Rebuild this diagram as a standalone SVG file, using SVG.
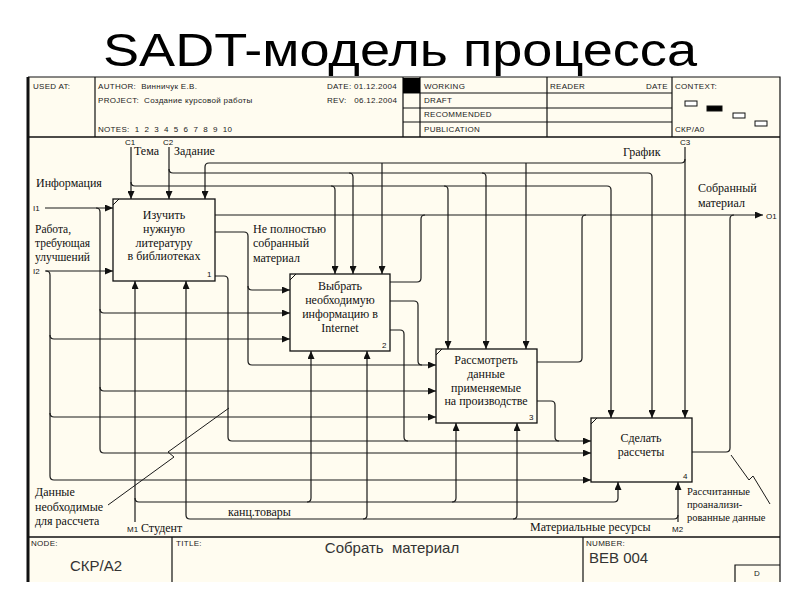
<svg xmlns="http://www.w3.org/2000/svg" width="800" height="600" viewBox="0 0 800 600">
<defs>
<marker id="ah" markerWidth="8" markerHeight="7" refX="8" refY="3.5" orient="auto" markerUnits="userSpaceOnUse"><path d="M0,0 L8,3.5 L0,7 z" fill="#111"/></marker>
<style>
.hd{font-family:"Liberation Sans",Arial,sans-serif;font-size:8px;fill:#222;letter-spacing:0.3px;white-space:pre}
.ft{font-family:"Liberation Sans",Arial,sans-serif;font-size:15px;fill:#333;white-space:pre}
.sr{font-family:"Liberation Serif","Times New Roman",serif;font-size:12px;fill:#111}
.sl{font-family:"Liberation Serif","Times New Roman",serif;font-size:11.5px;fill:#111}
.sm{font-family:"Liberation Serif","Times New Roman",serif;font-size:10.5px;fill:#111}
.bl{font-family:"Liberation Sans",Arial,sans-serif;font-size:8px;fill:#111}
.ln{fill:none;stroke:#1a1a1a;stroke-width:1.2}
.a{marker-end:url(#ah)}
.box{fill:#fffcf0;stroke:#111;stroke-width:1.3}
.fr{fill:none;stroke:#111;stroke-width:1.2}
</style>
</defs>
<rect width="800" height="600" fill="#fff"/>
<text x="400" y="66" text-anchor="middle" font-family="Liberation Sans, Arial, sans-serif" font-size="46" fill="#000" textLength="594" lengthAdjust="spacingAndGlyphs">SADT-модель процесса</text>

<rect x="28" y="77" width="752" height="505" fill="#fffcf0"/>
<g id="frame" class="fr">
<path d="M28 77 H780 V582"/>
<path d="M28 77 V582" stroke-width="3"/>
<path d="M28 137 H780" stroke-width="1.5"/>
<path d="M28 537 H780" stroke-width="1.5"/>
<path d="M95 77 V137 M403 77 V137 M420 77 V137 M547 77 V137 M672 77 V137"/>
<path d="M403 93 H672 M403 108 H672 M403 122 H672"/>
<path d="M172 537 V582 M583 537 V582"/>
<path d="M735 582 V565 H780"/>
</g>
<rect x="403" y="78" width="17" height="15" fill="#000"/>
<g id="context" stroke="#111" stroke-width="1">
<rect x="685" y="101" width="12" height="5" fill="#fff"/>
<rect x="707" y="106" width="15" height="5" fill="#000"/>
<rect x="733" y="113" width="12" height="5" fill="#fff"/>
<rect x="755" y="121" width="12" height="5" fill="#fff"/>
</g>
<g id="header">
<text class="hd" x="33" y="89">USED AT:</text>
<text class="hd" x="98" y="89">AUTHOR:  Винничук Е.В.</text>
<text class="hd" x="98" y="103">PROJECT:  Создание курсовой работы</text>
<text class="hd" x="98" y="132">NOTES:  1  2  3  4  5  6  7  8  9  10</text>
<text class="hd" x="327" y="89">DATE: 01.12.2004</text>
<text class="hd" x="327" y="103">REV:   06.12.2004</text>
<text class="hd" x="424" y="89">WORKING</text>
<text class="hd" x="424" y="103">DRAFT</text>
<text class="hd" x="424" y="117">RECOMMENDED</text>
<text class="hd" x="424" y="132">PUBLICATION</text>
<text class="hd" x="550" y="89">READER</text>
<text class="hd" x="646" y="89">DATE</text>
<text class="hd" x="675" y="89">CONTEXT:</text>
<text class="hd" x="675" y="132">СКР/А0</text>
</g>
<g id="footer">
<text class="hd" x="31" y="546" font-size="7">NODE:</text>
<text class="hd" x="176" y="546" font-size="7">TITLE:</text>
<text class="hd" x="586" y="546" font-size="7">NUMBER:</text>
<text class="ft" x="70" y="571">СКР/А2</text>
<text class="ft" x="392" y="553" text-anchor="middle">Собрать  материал</text>
<text class="ft" x="589" y="563">BEB 004</text>
<text class="hd" x="754" y="576">D</text>
</g>

<g id="connectors" class="ln">
<path class="a" d="M131 147 V199"/>
<path class="a" d="M131 182 Q131 186 135 186 H607 Q611 186 611 190 V418"/>
<path class="a" d="M331 186 Q335 186 335 190 V274"/>
<path class="a" d="M444 186 Q448 186 448 190 V349"/>
<path class="a" d="M169 147 V199"/>
<path class="a" d="M169 169 Q169 173 173 173 H648 Q652 173 652 177 V418"/>
<path class="a" d="M349 173 Q353 173 353 177 V274"/>
<path class="a" d="M482 173 Q486 173 486 177 V349"/>
<path class="a" d="M685 147 V418"/>
<path class="a" d="M685 159 Q685 163 681 163 H209 Q205 163 205 167 V199"/>
<path class="a" d="M382 163 V274"/>
<path class="a" d="M526 163 V349"/>
<path class="a" d="M45 208 H113"/>
<path class="a" d="M96 208 Q100 208 100 212 V449 Q100 453 104 453 H591"/>
<path class="a" d="M100 309 Q100 313 104 313 H290"/>
<path class="a" d="M100 387 Q100 391 104 391 H436"/>
<path class="a" d="M45 271 H113"/>
<path class="a" d="M46 271 Q50 271 50 275 V476 Q50 480 54 480 H591"/>
<path class="a" d="M50 335 Q50 339 54 339 H290"/>
<path class="a" d="M50 413 Q50 417 54 417 H436"/>
<path class="a" d="M215 215 H763"/>
<path class="a" d="M215 232 H244 Q248 232 248 236 V361 Q248 365 252 365 H436"/>
<path class="a" d="M248 286 Q248 290 252 290 H290"/>
<path class="a" d="M215 276 H224 Q228 276 228 280 V437 Q228 441 232 441 H591"/>
<path d="M390 282 H417 Q421 282 421 278 V219 Q421 215 425 215"/>
<path d="M390 301 H414 Q418 301 418 305 V361 Q418 365 422 365"/>
<path d="M390 330 H400 Q404 330 404 334 V437 Q404 441 408 441"/>
<path d="M537 362 H578 Q582 362 582 358 V219 Q582 215 586 215"/>
<path d="M537 401 H551 Q555 401 555 405 V437 Q555 441 559 441"/>
<path d="M692 452 H726 Q730 452 730 448 V219 Q730 215 734 215"/>
<path class="a" d="M135 522 V281"/>
<path class="a" d="M135 498 Q135 502 139 502 H614 Q618 502 618 498 V482"/>
<path class="a" d="M307 502 Q311 502 311 498 V351"/>
<path class="a" d="M452 502 Q456 502 456 498 V423"/>
<path class="a" d="M678 522 V482"/>
<path class="a" d="M678 515 Q678 519 674 519 H190 Q186 519 186 515 V281"/>
<path class="a" d="M363 519 Q367 519 367 515 V351"/>
<path class="a" d="M513 519 Q517 519 517 515 V423"/>
<path d="M229 408 L168 452 L174 457 L108 505" stroke-width="1"/>
<path d="M731 455 L749 480 L753 476 L770 504" stroke-width="1"/>
</g>

<g id="box1">
<rect class="box" x="113" y="199" width="102" height="82"/>
<path d="M113 205 L119 199" stroke="#111" stroke-width="1"/>
<text class="sr" text-anchor="middle" x="164" y="219">Изучить</text>
<text class="sr" text-anchor="middle" x="164" y="233">нужную</text>
<text class="sr" text-anchor="middle" x="164" y="247">литературу</text>
<text class="sr" text-anchor="middle" x="164" y="260">в библиотеках</text>
<text class="bl" x="207" y="277">1</text>
</g>
<g id="box2">
<rect class="box" x="290" y="274" width="100" height="77"/>
<path d="M290 280 L296 274" stroke="#111" stroke-width="1"/>
<text class="sr" text-anchor="middle" x="340" y="290">Выбрать</text>
<text class="sr" text-anchor="middle" x="340" y="304">необходимую</text>
<text class="sr" text-anchor="middle" x="340" y="318">информацию в</text>
<text class="sr" text-anchor="middle" x="340" y="332">Internet</text>
<text class="bl" x="382" y="348">2</text>
</g>
<g id="box3">
<rect class="box" x="436" y="349" width="101" height="74"/>
<path d="M436 355 L442 349" stroke="#111" stroke-width="1"/>
<text class="sr" text-anchor="middle" x="486" y="364">Рассмотреть</text>
<text class="sr" text-anchor="middle" x="486" y="378">данные</text>
<text class="sr" text-anchor="middle" x="486" y="392">применяемые</text>
<text class="sr" text-anchor="middle" x="486" y="405">на производстве</text>
<text class="bl" x="529" y="420">3</text>
</g>
<g id="box4">
<rect class="box" x="591" y="418" width="101" height="64"/>
<path d="M591 424 L597 418" stroke="#111" stroke-width="1"/>
<text class="sr" text-anchor="middle" x="641" y="442">Сделать</text>
<text class="sr" text-anchor="middle" x="641" y="456">рассчеты</text>
<text class="bl" x="683" y="479">4</text>
</g>

<g id="labels">
<text class="bl" x="125" y="145">C1</text>
<text class="bl" x="163" y="145">C2</text>
<text class="bl" x="680" y="145">C3</text>
<text class="bl" x="33" y="211">I1</text>
<text class="bl" x="33" y="274">I2</text>
<text class="bl" x="766" y="219">O1</text>
<text class="bl" x="127" y="532">M1</text>
<text class="bl" x="672" y="532">M2</text>
<text class="sr" x="134" y="155">Тема</text>
<text class="sr" x="174" y="155">Задание</text>
<text class="sr" x="623" y="156">График</text>
<text class="sr" x="36" y="187">Информация</text>
<text class="sl" x="35" y="233">Работа,</text>
<text class="sl" x="35" y="247">требующая</text>
<text class="sl" x="35" y="261">улучшений</text>
<text class="sr" x="253" y="233">Не полностью</text>
<text class="sr" x="253" y="247">собранный</text>
<text class="sr" x="253" y="262">материал</text>
<text class="sr" x="698" y="192">Собранный</text>
<text class="sr" x="698" y="207">материал</text>
<text class="sr" x="35" y="496">Данные</text>
<text class="sr" x="35" y="511">необходимые</text>
<text class="sr" x="35" y="525">для рассчета</text>
<text class="sr" x="141" y="532">Студент</text>
<text class="sr" x="228" y="516">канц.товары</text>
<text class="sr" x="530" y="531">Материальные ресурсы</text>
<text class="sm" x="687" y="495">Рассчитанные</text>
<text class="sm" x="687" y="508">проанализи-</text>
<text class="sm" x="687" y="521">рованные данные</text>
</g>
</svg>
